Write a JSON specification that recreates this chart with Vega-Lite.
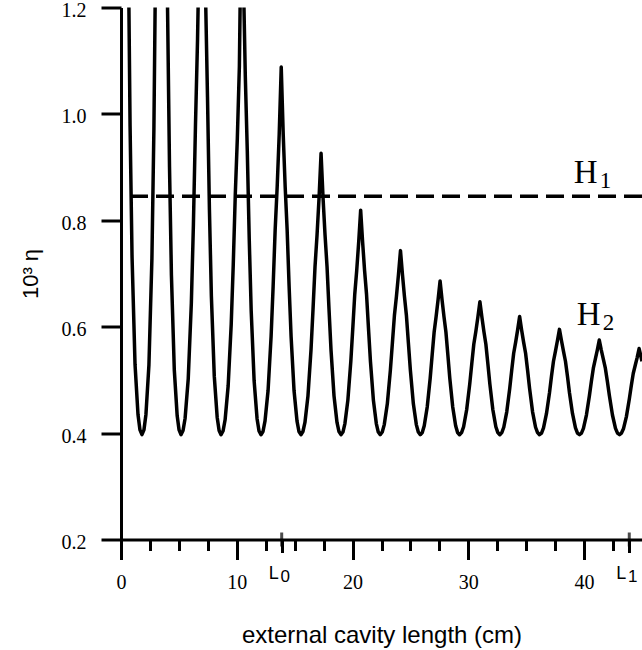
{
  "$schema": "https://vega.github.io/schema/vega-lite/v6.json",
  "width": 521,
  "height": 532,
  "autosize": {"type": "none"},
  "padding": {"left": 121, "top": 7.5, "right": 0, "bottom": 110.5},
  "background": "white",
  "config": {
    "view": {"stroke": null},
    "axis": {"domainColor": "black", "tickColor": "black", "labelColor": "black", "titleColor": "black", "grid": false}
  },
  "datasets": {
    "curve": [
      {"length": 0.10, "eta": 4.5}, {"length": 0.613, "eta": 1.358}, {"length": 0.784, "eta": 0.977}, {"length": 0.955, "eta": 0.731}, {"length": 1.212, "eta": 0.529}, {"length": 1.468, "eta": 0.435}, {"length": 1.639, "eta": 0.406}, {"length": 1.81, "eta": 0.397},
      {"length": 1.982, "eta": 0.406}, {"length": 2.154, "eta": 0.435}, {"length": 2.412, "eta": 0.528}, {"length": 2.67, "eta": 0.728}, {"length": 2.842, "eta": 0.972}, {"length": 3.014, "eta": 1.347}, {"length": 3.53, "eta": 3.5},
      {"length": 3.86, "eta": 1.476}, {"length": 4.025, "eta": 1.19}, {"length": 4.19, "eta": 0.9}, {"length": 4.355, "eta": 0.697}, {"length": 4.603, "eta": 0.519}, {"length": 4.85, "eta": 0.433}, {"length": 5.015, "eta": 0.406}, {"length": 5.18, "eta": 0.397},
      {"length": 5.359, "eta": 0.405}, {"length": 5.538, "eta": 0.428}, {"length": 5.807, "eta": 0.502}, {"length": 6.075, "eta": 0.644}, {"length": 6.254, "eta": 0.792}, {"length": 6.433, "eta": 0.979}, {"length": 6.612, "eta": 1.141}, {"length": 6.791, "eta": 1.367}, {"length": 6.97, "eta": 2.1},
      {"length": 7.137, "eta": 1.495}, {"length": 7.304, "eta": 1.221}, {"length": 7.471, "eta": 1.032}, {"length": 7.638, "eta": 0.82}, {"length": 7.805, "eta": 0.658}, {"length": 8.056, "eta": 0.507}, {"length": 8.306, "eta": 0.43}, {"length": 8.473, "eta": 0.405}, {"length": 8.64, "eta": 0.397},
      {"length": 8.816, "eta": 0.404}, {"length": 8.992, "eta": 0.425}, {"length": 9.256, "eta": 0.489}, {"length": 9.52, "eta": 0.605}, {"length": 9.696, "eta": 0.717}, {"length": 9.872, "eta": 0.849}, {"length": 10.048, "eta": 0.954}, {"length": 10.224, "eta": 1.089}, {"length": 10.40, "eta": 1.4},
      {"length": 10.569, "eta": 1.258}, {"length": 10.738, "eta": 1.07}, {"length": 10.907, "eta": 0.931}, {"length": 11.076, "eta": 0.765}, {"length": 11.245, "eta": 0.63}, {"length": 11.499, "eta": 0.498}, {"length": 11.752, "eta": 0.427}, {"length": 11.921, "eta": 0.404}, {"length": 12.09, "eta": 0.397},
      {"length": 12.265, "eta": 0.403}, {"length": 12.44, "eta": 0.423}, {"length": 12.703, "eta": 0.48}, {"length": 12.965, "eta": 0.582}, {"length": 13.14, "eta": 0.676}, {"length": 13.315, "eta": 0.782}, {"length": 13.49, "eta": 0.863}, {"length": 13.665, "eta": 0.962}, {"length": 13.84, "eta": 1.088},
      {"length": 14.01, "eta": 0.962}, {"length": 14.18, "eta": 0.863}, {"length": 14.35, "eta": 0.782}, {"length": 14.52, "eta": 0.676}, {"length": 14.69, "eta": 0.582}, {"length": 14.945, "eta": 0.48}, {"length": 15.2, "eta": 0.423}, {"length": 15.37, "eta": 0.403}, {"length": 15.54, "eta": 0.397},
      {"length": 15.714, "eta": 0.403}, {"length": 15.888, "eta": 0.42}, {"length": 16.149, "eta": 0.47}, {"length": 16.41, "eta": 0.556}, {"length": 16.584, "eta": 0.632}, {"length": 16.758, "eta": 0.713}, {"length": 16.932, "eta": 0.772}, {"length": 17.106, "eta": 0.842}, {"length": 17.28, "eta": 0.926},
      {"length": 17.452, "eta": 0.842}, {"length": 17.624, "eta": 0.772}, {"length": 17.796, "eta": 0.713}, {"length": 17.968, "eta": 0.632}, {"length": 18.14, "eta": 0.556}, {"length": 18.398, "eta": 0.47}, {"length": 18.656, "eta": 0.42}, {"length": 18.828, "eta": 0.403}, {"length": 19.0, "eta": 0.397},
      {"length": 19.17, "eta": 0.402}, {"length": 19.34, "eta": 0.418}, {"length": 19.595, "eta": 0.462}, {"length": 19.85, "eta": 0.535}, {"length": 20.02, "eta": 0.597}, {"length": 20.19, "eta": 0.661}, {"length": 20.36, "eta": 0.706}, {"length": 20.53, "eta": 0.759}, {"length": 20.70, "eta": 0.819},
      {"length": 20.869, "eta": 0.759}, {"length": 21.038, "eta": 0.706}, {"length": 21.207, "eta": 0.661}, {"length": 21.376, "eta": 0.597}, {"length": 21.545, "eta": 0.535}, {"length": 21.799, "eta": 0.462}, {"length": 22.052, "eta": 0.418}, {"length": 22.221, "eta": 0.402}, {"length": 22.39, "eta": 0.397},
      {"length": 22.565, "eta": 0.402}, {"length": 22.74, "eta": 0.416}, {"length": 23.003, "eta": 0.455}, {"length": 23.265, "eta": 0.518}, {"length": 23.44, "eta": 0.569}, {"length": 23.615, "eta": 0.621}, {"length": 23.79, "eta": 0.657}, {"length": 23.965, "eta": 0.698}, {"length": 24.14, "eta": 0.743},
      {"length": 24.311, "eta": 0.698}, {"length": 24.482, "eta": 0.657}, {"length": 24.653, "eta": 0.621}, {"length": 24.824, "eta": 0.569}, {"length": 24.995, "eta": 0.518}, {"length": 25.252, "eta": 0.455}, {"length": 25.508, "eta": 0.416}, {"length": 25.679, "eta": 0.402}, {"length": 25.85, "eta": 0.397},
      {"length": 26.021, "eta": 0.401}, {"length": 26.192, "eta": 0.414}, {"length": 26.449, "eta": 0.449}, {"length": 26.705, "eta": 0.503}, {"length": 26.876, "eta": 0.547}, {"length": 27.047, "eta": 0.59}, {"length": 27.218, "eta": 0.619}, {"length": 27.389, "eta": 0.651}, {"length": 27.56, "eta": 0.686},
      {"length": 27.728, "eta": 0.651}, {"length": 27.896, "eta": 0.619}, {"length": 28.064, "eta": 0.59}, {"length": 28.232, "eta": 0.547}, {"length": 28.4, "eta": 0.503}, {"length": 28.652, "eta": 0.449}, {"length": 28.904, "eta": 0.414}, {"length": 29.072, "eta": 0.401}, {"length": 29.24, "eta": 0.397},
      {"length": 29.416, "eta": 0.401}, {"length": 29.592, "eta": 0.412}, {"length": 29.856, "eta": 0.444}, {"length": 30.12, "eta": 0.492}, {"length": 30.296, "eta": 0.53}, {"length": 30.472, "eta": 0.567}, {"length": 30.648, "eta": 0.591}, {"length": 30.824, "eta": 0.618}, {"length": 31.0, "eta": 0.647},
      {"length": 31.172, "eta": 0.618}, {"length": 31.344, "eta": 0.591}, {"length": 31.516, "eta": 0.567}, {"length": 31.688, "eta": 0.53}, {"length": 31.86, "eta": 0.492}, {"length": 32.118, "eta": 0.444}, {"length": 32.376, "eta": 0.412}, {"length": 32.548, "eta": 0.401}, {"length": 32.72, "eta": 0.397},
      {"length": 32.891, "eta": 0.401}, {"length": 33.062, "eta": 0.411}, {"length": 33.319, "eta": 0.44}, {"length": 33.575, "eta": 0.484}, {"length": 33.746, "eta": 0.518}, {"length": 33.917, "eta": 0.55}, {"length": 34.088, "eta": 0.571}, {"length": 34.259, "eta": 0.594}, {"length": 34.43, "eta": 0.619},
      {"length": 34.602, "eta": 0.594}, {"length": 34.774, "eta": 0.571}, {"length": 34.946, "eta": 0.55}, {"length": 35.118, "eta": 0.518}, {"length": 35.29, "eta": 0.484}, {"length": 35.548, "eta": 0.44}, {"length": 35.806, "eta": 0.411}, {"length": 35.978, "eta": 0.401}, {"length": 36.15, "eta": 0.397},
      {"length": 36.322, "eta": 0.4}, {"length": 36.494, "eta": 0.41}, {"length": 36.752, "eta": 0.437}, {"length": 37.01, "eta": 0.476}, {"length": 37.182, "eta": 0.507}, {"length": 37.354, "eta": 0.535}, {"length": 37.526, "eta": 0.554}, {"length": 37.698, "eta": 0.574}, {"length": 37.87, "eta": 0.595},
      {"length": 38.043, "eta": 0.574}, {"length": 38.216, "eta": 0.554}, {"length": 38.389, "eta": 0.535}, {"length": 38.562, "eta": 0.507}, {"length": 38.735, "eta": 0.476}, {"length": 38.995, "eta": 0.437}, {"length": 39.254, "eta": 0.41}, {"length": 39.427, "eta": 0.4}, {"length": 39.6, "eta": 0.397},
      {"length": 39.771, "eta": 0.4}, {"length": 39.942, "eta": 0.409}, {"length": 40.199, "eta": 0.434}, {"length": 40.455, "eta": 0.47}, {"length": 40.626, "eta": 0.497}, {"length": 40.797, "eta": 0.522}, {"length": 40.968, "eta": 0.539}, {"length": 41.139, "eta": 0.556}, {"length": 41.31, "eta": 0.575},
      {"length": 41.485, "eta": 0.556}, {"length": 41.66, "eta": 0.539}, {"length": 41.835, "eta": 0.522}, {"length": 42.01, "eta": 0.497}, {"length": 42.185, "eta": 0.47}, {"length": 42.448, "eta": 0.434}, {"length": 42.71, "eta": 0.409}, {"length": 42.885, "eta": 0.4}, {"length": 43.06, "eta": 0.397},
      {"length": 43.229, "eta": 0.4}, {"length": 43.398, "eta": 0.408}, {"length": 43.652, "eta": 0.431}, {"length": 43.905, "eta": 0.464}, {"length": 44.074, "eta": 0.489}, {"length": 44.243, "eta": 0.512}, {"length": 44.412, "eta": 0.527}, {"length": 44.581, "eta": 0.542}, {"length": 44.75, "eta": 0.559},
      {"length": 45.0, "eta": 0.535}
    ],
    "levels": [{"name": "H1", "eta": 0.845}],
    "lengthMarks": [{"name": "L", "sub": "0", "length": 13.88}, {"name": "L", "sub": "1", "length": 43.9}],
    "curveLabels": [{"name": "H", "sub": "1", "length": 40.14, "eta": 0.87}, {"name": "H", "sub": "2", "length": 40.39, "eta": 0.603}]
  },
  "layer": [
    {
      "data": {"name": "curve"},
      "mark": {"type": "line", "clip": true, "color": "black", "strokeWidth": 3.5, "strokeJoin": "round"},
      "encoding": {
        "x": {
          "field": "length", "type": "quantitative",
          "scale": {"domain": [0, 45], "nice": false, "zero": false},
          "axis": {
            "values": [0, 2.5, 5, 7.5, 10, 12.5, 13.88, 15, 17.5, 20, 22.5, 25, 27.5, 30, 32.5, 35, 37.5, 40, 42.5, 43.9],
            "tickCount": 100,
            "labelExpr": "abs(datum.value - 10 * round(datum.value / 10)) < 0.001 ? format(datum.value, 'd') : ''",
            "tickSize": {"condition": [{"test": "abs(datum.value - 10 * round(datum.value / 10)) < 0.001", "value": 20}, {"test": "datum.value > 13.8 && datum.value < 14 || datum.value > 43.8 && datum.value < 44", "value": 13}], "value": 11},
            "tickWidth": 3,
            "domainWidth": 3,
            "labelFont": "Liberation Serif",
            "labelFontSize": 20,
            "labelPadding": 13,
            "labelFlush": false,
            "labelOverlap": false,
            "title": "external cavity length (cm)",
            "titleFont": "Liberation Sans",
            "titleFontSize": 24,
            "titleFontWeight": "normal",
            "titleY": 102.5,
            "titleBaseline": "alphabetic"
          }
        },
        "y": {
          "field": "eta", "type": "quantitative",
          "scale": {"domain": [0.2, 1.2], "nice": false, "zero": false},
          "axis": {
            "values": [0.2, 0.4, 0.6, 0.8, 1.0, 1.2],
            "tickCount": 100,
            "format": ".1f",
            "tickSize": 20,
            "tickWidth": 3,
            "domainWidth": 3,
            "labelFont": "Liberation Serif",
            "labelFontSize": 20,
            "labelPadding": 15,
            "labelOffset": 3,
            "labelFlush": false,
            "title": "10³ η",
            "titleFont": "Liberation Sans",
            "titleFontSize": 22,
            "titleFontWeight": "normal",
            "titleX": -91,
            "titleY": 266,
            "titleAngle": -90,
            "titleAlign": "center",
            "titleBaseline": "middle"
          }
        }
      }
    },
    {
      "data": {"name": "levels"},
      "mark": {"type": "rule", "color": "black", "strokeWidth": 3.5, "strokeDash": [18, 8]},
      "encoding": {"y": {"field": "eta", "type": "quantitative"}}
    },
    {
      "data": {"name": "lengthMarks"},
      "mark": {"type": "tick", "orient": "vertical", "size": 14, "thickness": 3, "color": "black"},
      "encoding": {"x": {"field": "length", "type": "quantitative"}, "y": {"datum": 0.2, "type": "quantitative"}}
    },
    {
      "data": {"name": "lengthMarks"},
      "mark": {"type": "text", "font": "Liberation Sans", "fontSize": 18, "align": "center", "baseline": "alphabetic", "dx": -8, "color": "black"},
      "encoding": {"x": {"field": "length", "type": "quantitative"}, "y": {"datum": 0.126, "type": "quantitative"}, "text": {"field": "name"}}
    },
    {
      "data": {"name": "lengthMarks"},
      "mark": {"type": "text", "font": "Liberation Sans", "fontSize": 17, "align": "center", "baseline": "alphabetic", "dx": 3.5, "color": "black"},
      "encoding": {"x": {"field": "length", "type": "quantitative"}, "y": {"datum": 0.121, "type": "quantitative"}, "text": {"field": "sub"}}
    },
    {
      "data": {"name": "curveLabels"},
      "mark": {"type": "text", "font": "Liberation Serif", "fontSize": 33, "align": "center", "baseline": "alphabetic", "color": "black"},
      "encoding": {"x": {"field": "length", "type": "quantitative"}, "y": {"field": "eta", "type": "quantitative"}, "text": {"field": "name"}}
    },
    {
      "data": {"name": "curveLabels"},
      "mark": {"type": "text", "font": "Liberation Serif", "fontSize": 23, "align": "left", "baseline": "alphabetic", "dx": 14, "dy": 5, "color": "black"},
      "encoding": {"x": {"field": "length", "type": "quantitative"}, "y": {"field": "eta", "type": "quantitative"}, "text": {"field": "sub"}}
    }
  ]
}
